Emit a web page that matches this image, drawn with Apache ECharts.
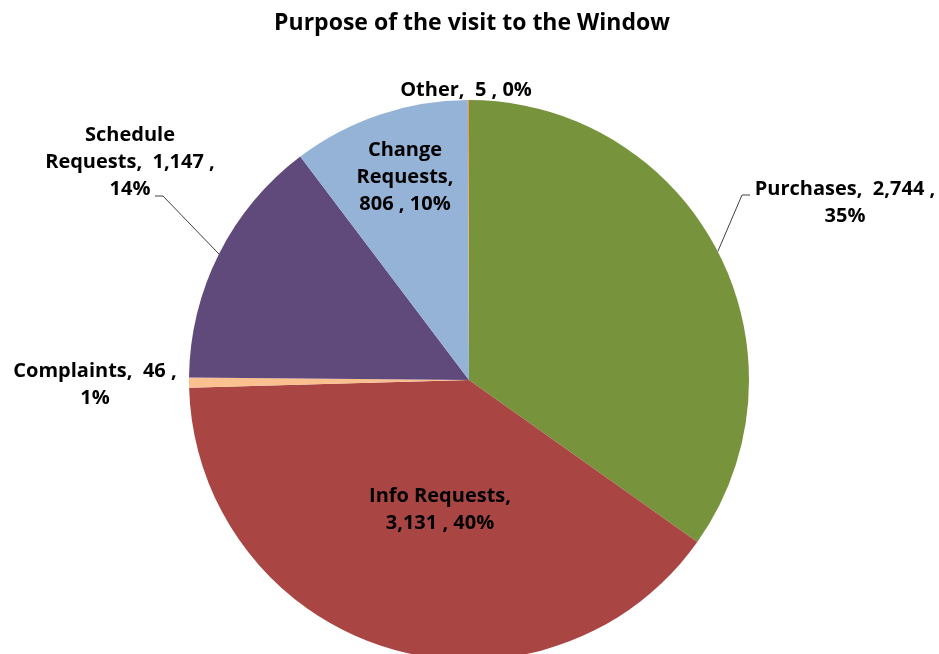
<!DOCTYPE html>
<html>
<head>
<meta charset="utf-8">
<script src="https://cdn.jsdelivr.net/npm/echarts@6/dist/echarts.min.js"></script>
<style>
html,body{margin:0;padding:0;background:#fff;}
#chart{width:939px;height:654px;}
</style>
</head>
<body>
<div id="chart"></div>
<script>
// ---- data ----
const titleText = 'Purpose of the visit to the Window';
const categories = ['Purchases', 'Info Requests', 'Complaints', 'Schedule Requests', 'Change Requests', 'Other'];
const values = [2744, 3131, 46, 1147, 806, 5];
const percentLabels = ['35%', '40%', '1%', '14%', '10%', '0%'];
const colors = ['#77933C', '#A94644', '#FAC090', '#604A7B', '#95B3D7', '#F79646'];

// ---- layout / style (not data) ----
const FONT = 'Open Sans';
const CX = 469, CY = 380, R = 280;
const labelCfg = {
  'Purchases':        { pos: 'outside', line: true,  x: 845, y: 203, fmt: (n, v, p) => n + ',  ' + v + ' ,\n' + p, guide: [[742, 195], [750, 195]] },
  'Info Requests':    { pos: 'inside',  line: false, x: 440, y: 510, fmt: (n, v, p) => n + ',\n' + v + ' , ' + p },
  'Complaints':       { pos: 'outside', line: false, x: 95,  y: 385, fmt: (n, v, p) => n + ',  ' + v + ' ,\n' + p },
  'Schedule Requests':{ pos: 'outside', line: true,  x: 130, y: 162, fmt: (n, v, p) => n.replace(' ', '\n') + ',  ' + v + ' ,\n' + p, guide: [[163, 196], [155, 196]] },
  'Change Requests':  { pos: 'inside',  line: false, x: 405, y: 177, fmt: (n, v, p) => n.replace(' ', '\n') + ',\n' + v + ' , ' + p },
  'Other':            { pos: 'outside', line: false, x: 466, y: 90,  fmt: (n, v, p) => n + ',  ' + v + ' , ' + p }
};

const seriesData = categories.map((name, i) => {
  const cfg = labelCfg[name];
  return {
    name: name,
    value: values[i],
    itemStyle: { color: colors[i] },
    label: { position: cfg.pos },
    labelLine: { show: cfg.line }
  };
});

const chart = echarts.init(document.getElementById('chart'), null, { renderer: 'canvas' });
chart.setOption({
  backgroundColor: '#ffffff',
  animation: false,
  title: {
    text: titleText,
    left: 467,
    textAlign: 'center',
    top: 7,
    textStyle: { fontFamily: FONT, fontSize: 23, fontWeight: 'bold', color: '#000000' }
  },
  series: [{
    type: 'pie',
    center: [CX, CY],
    radius: R,
    startAngle: 90,
    clockwise: true,
    avoidLabelOverlap: false,
    emphasis: { disabled: true },
    itemStyle: { borderWidth: 0 },
    label: {
      show: true,
      color: '#000000',
      fontFamily: FONT,
      fontSize: 20,
      fontWeight: 'bold',
      lineHeight: 27,
      align: 'center',
      formatter: function (p) {
        const i = p.dataIndex;
        return labelCfg[p.name].fmt(p.name, values[i].toLocaleString('en-US'), percentLabels[i]);
      }
    },
    labelLine: {
      length: 20,
      length2: 10,
      lineStyle: { color: '#404040', width: 1 }
    },
    labelLayout: function (params) {
      const name = categories[params.dataIndex];
      const cfg = labelCfg[name];
      const out = { x: cfg.x, y: cfg.y, align: 'center', verticalAlign: 'middle' };
      if (cfg.guide && params.labelLinePoints) {
        out.labelLinePoints = [params.labelLinePoints[0], cfg.guide[0], cfg.guide[1]];
      }
      return out;
    },
    data: seriesData
  }]
});
</script>
</body>
</html>
